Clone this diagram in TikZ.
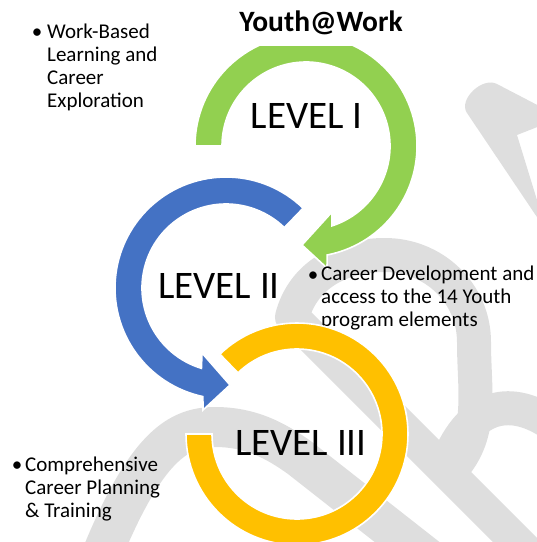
\documentclass[tikz,border=0pt]{standalone}
\usepackage{fontspec}
\setmainfont{Carlito}
\usetikzlibrary{calc}

\definecolor{lvlgreen}{HTML}{92D050}
\definecolor{lvlblue}{HTML}{4472C4}
\definecolor{lvlyellow}{HTML}{FFC000}
\definecolor{ribbongray}{RGB}{222,222,222}

\tikzset{
  ring/.style={draw=white, line width=1.6pt},
  ribbon/.style={draw=ribbongray, line width=34pt, line join=round},
  level/.style={font=\fontsize{39}{47}\selectfont, inner sep=0pt},
  title/.style={font=\bfseries\fontsize{29.5}{34}\selectfont, fill=white,
    inner sep=0pt, text depth=15pt, minimum width=200pt},
  item/.style={font=\fontsize{21}{23.2}\selectfont, align=left, inner sep=0pt},
  dot/.style={font=\fontsize{21}{23.2}\selectfont, inner sep=0pt},
}

\begin{document}
\begin{tikzpicture}[x=1pt, y=-1pt]
  \clip (0,0) rectangle (537,542);

  % grey ribbons in the back
  \draw[ribbon] (570,595) -- (292,317) to[out=75, in=180] (385,255)
    to[out=0, in=90] (474,342) to[out=-90, in=45] (448,473);
  \draw[ribbon] (560,430) .. controls (520,398) and (478,398) .. (452,452);
  \draw[ribbon, line width=40pt] (88,590) .. controls (140,450) and (175,427) .. (215,427)
    .. controls (250,427) and (275,440) .. (300,458) -- (430,560);
  \fill[ribbongray] (545,229) -- (467,113) to[out=124, in=152] (497,84)
    -- (545,109) -- (545,124) -- (517,135) -- (545,226) -- cycle;

  \coordinate (gc) at (306,146);
  \coordinate (bc) at (226,288);
  \coordinate (yc) at (297,434);

  % level I arrow
  \fill[lvlgreen, ring] ($(gc)+(180:111)$) arc[start angle=180, end angle=439, radius=111]
    -- (327,268) -- (302,245) -- (332,212) -- ($(gc)+(72:84)$)
    arc[start angle=72, end angle=-180, radius=84] -- cycle;
  % level II arrow
  \fill[lvlblue, ring] ($(bc)+(-46:111)$) arc[start angle=-46, end angle=-258, radius=111]
    -- (203,410) -- (230,385) -- (202,353) -- ($(bc)+(-253:84)$)
    arc[start angle=-253, end angle=-46, radius=84] -- cycle;

  \node[title, anchor=base] (title) at (321,31) {Youth@Work};

  % base of a multi-line node is its last line
  \node[item, anchor=base west] (work) at (47,107.6) {Work-Based\\Learning and\\Career\\Exploration};
  \node[dot, anchor=base] (workdot) at (37,38) {•};
  \node[item, anchor=base west] (career) at (321,326.4) {Career Development and\\access to the 14 Youth\\program elements};
  \node[dot, anchor=base] (careerdot) at (313,281) {•};
  \node[item, anchor=base west] (plan) at (25,517.4) {Comprehensive\\Career Planning\\\& Training};
  \node[dot, anchor=base] (plandot) at (17,471) {•};

  % level III ring
  \fill[lvlyellow, ring] ($(yc)+(180:111)$) arc[start angle=-180, end angle=-494, radius=111]
    -- ($(yc)+(-494:85)$) arc[start angle=-494, end angle=-180, radius=85] -- cycle;

  \node[level] (lvl1) at (306.5,116) {LEVEL I};
  \node[level] (lvl2) at (219,285.5) {LEVEL II};
  \node[level] (lvl3) at (301,443) {LEVEL III};
\end{tikzpicture}
\end{document}
